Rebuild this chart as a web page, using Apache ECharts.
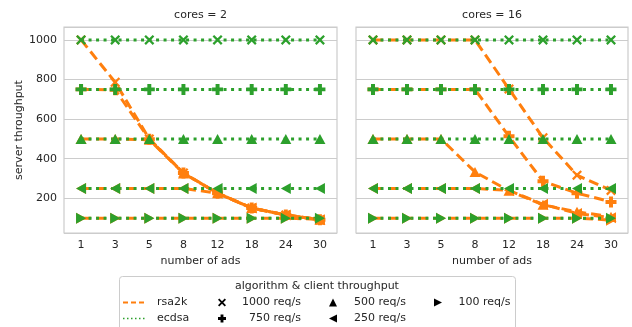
<!DOCTYPE html>
<html>
<head>
<meta charset="utf-8">
<script src="https://cdn.jsdelivr.net/npm/echarts@6/dist/echarts.min.js"></script>
<style>html,body{margin:0;padding:0;background:#fff;}#c{width:632px;height:327px;}</style>
</head>
<body>
<div id="c"></div>
<script>
// ---- data ----
const categories = ['1', '3', '5', '8', '12', '18', '24', '30'];
const panelTitles = ['cores = 2', 'cores = 16'];
const algorithms = ['rsa2k', 'ecdsa'];
const throughputLabels = ['1000 req/s', '750 req/s', '500 req/s', '250 req/s', '100 req/s'];
const yTicks = [200, 400, 600, 800, 1000];

// cores = 2, rsa2k
const rsaC2_1000 = [1000, 786, 500, 328, 226, 151, 116, 92];
const rsaC2_750  = [750, 748, 498, 328, 226, 151, 116, 92];
const rsaC2_500  = [500, 500, 496, 326, 226, 151, 116, 92];
const rsaC2_250  = [250, 250, 250, 250, 226, 151, 116, 92];
const rsaC2_100  = [100, 100, 100, 100, 100, 100, 100, 94];
// cores = 2, ecdsa
const ecC2_1000 = [1000, 1000, 1000, 1000, 1000, 1000, 1000, 1000];
const ecC2_750  = [750, 750, 750, 750, 750, 750, 750, 750];
const ecC2_500  = [500, 500, 500, 500, 500, 500, 500, 500];
const ecC2_250  = [250, 250, 250, 250, 250, 250, 250, 250];
const ecC2_100  = [100, 100, 100, 100, 100, 100, 100, 100];
// cores = 16, rsa2k
const rsaC16_1000 = [1000, 1000, 1000, 1000, 752, 506, 317, 240];
const rsaC16_750  = [750, 750, 750, 750, 513, 286, 226, 182];
const rsaC16_500  = [500, 500, 500, 333, 238, 167, 132, 107];
const rsaC16_250  = [250, 250, 250, 250, 240, 170, 124, 102];
const rsaC16_100  = [100, 100, 100, 100, 100, 100, 100, 90];
// cores = 16, ecdsa
const ecC16_1000 = [1000, 1000, 1000, 1000, 1000, 1000, 1000, 1000];
const ecC16_750  = [750, 750, 750, 750, 750, 750, 750, 750];
const ecC16_500  = [500, 500, 500, 500, 500, 500, 500, 500];
const ecC16_250  = [250, 250, 250, 250, 250, 250, 250, 250];
const ecC16_100  = [100, 100, 100, 100, 100, 100, 100, 100];

// ---- styling ----
const ORANGE = '#ff7f0e', GREEN = '#2ca02c', TXT = '#262626', FRAME = '#cccccc';
const FONT = 'DejaVu Sans';
const SYM = {
  x: 'path://M0,1.6 L1.6,0 L5,3.4 L8.4,0 L10,1.6 L6.6,5 L10,8.4 L8.4,10 L5,6.6 L1.6,10 L0,8.4 L3.4,5 Z',
  plus: 'path://M3.2,0 H6.8 V3.2 H10 V6.8 H6.8 V10 H3.2 V6.8 H0 V3.2 H3.2 Z',
  up: 'path://M5,0 L10,10 L0,10 Z',
  left: 'path://M0,5 L10,0 L10,10 Z',
  right: 'path://M10,5 L0,0 L0,10 Z'
};
const symOrder = ['x', 'plus', 'up', 'left', 'right'];
const symSize = {x: [10, 10], plus: [11, 11], up: [11, 10], left: [10, 11], right: [10, 11]};

const panels = [
  {rsa: [rsaC2_1000, rsaC2_750, rsaC2_500, rsaC2_250, rsaC2_100],
   ec: [ecC2_1000, ecC2_750, ecC2_500, ecC2_250, ecC2_100]},
  {rsa: [rsaC16_1000, rsaC16_750, rsaC16_500, rsaC16_250, rsaC16_100],
   ec: [ecC16_1000, ecC16_750, ecC16_500, ecC16_250, ecC16_100]}
];

const series = [];
panels.forEach((p, pi) => {
  [['rsa', ORANGE, [10, 5]], ['ec', GREEN, [3, 4.5]]].forEach(([key, color, dash], ai) => {
    p[key].forEach((arr, ti) => {
      const s = symOrder[ti];
      series.push({
        name: algorithms[ai] + ' ' + throughputLabels[ti],
        type: 'line',
        xAxisIndex: pi, yAxisIndex: pi,
        data: arr,
        symbol: SYM[s],
        symbolSize: symSize[s],
        showSymbol: true, showAllSymbol: true,
        itemStyle: {color: color, borderWidth: 0},
        lineStyle: {color: color, width: 3, type: dash, cap: 'butt'},
        emphasis: {disabled: true},
        animation: false,
        silent: true
      });
    });
  });
});

const grids = [
  {left: 64, top: 27, width: 273, height: 206},
  {left: 356, top: 27, width: 272, height: 206}
].map(g => Object.assign(g, {show: true, borderColor: FRAME, borderWidth: 1.2, backgroundColor: 'transparent', containLabel: false, outerBoundsMode: 'none'}));

const xAxes = [0, 1].map(i => ({
  gridIndex: i, type: 'category', data: categories, boundaryGap: true,
  axisLine: {show: false}, axisTick: {show: false},
  axisLabel: {color: TXT, fontSize: 11, fontFamily: FONT, margin: 7},
  splitLine: {show: false},
  name: 'number of ads', nameLocation: 'middle', nameGap: 22,
  nameTextStyle: {color: TXT, fontSize: 11, fontFamily: FONT}
}));

const yAxes = [0, 1].map(i => ({
  gridIndex: i, type: 'value', min: 25, max: 1065, splitNumber: 5,
  axisLine: {show: false}, axisTick: {show: false},
  axisLabel: {show: i === 0, color: TXT, fontSize: 11, fontFamily: FONT, margin: 7,
    showMinLabel: false, showMaxLabel: false,
    formatter: v => (yTicks.indexOf(v) >= 0 ? String(v) : '')},
  splitLine: {show: true, lineStyle: {color: FRAME, width: 1}},
  name: i === 0 ? 'server throughput' : '', nameLocation: 'middle', nameGap: 38,
  nameTextStyle: {color: TXT, fontSize: 11, fontFamily: FONT}
}));

// ---- legend (drawn as graphics) ----
function polyPts(key, cx, cy, s) {
  const paths = {
    x: [[0,1.6],[1.6,0],[5,3.4],[8.4,0],[10,1.6],[6.6,5],[10,8.4],[8.4,10],[5,6.6],[1.6,10],[0,8.4],[3.4,5]],
    plus: [[3.2,0],[6.8,0],[6.8,3.2],[10,3.2],[10,6.8],[6.8,6.8],[6.8,10],[3.2,10],[3.2,6.8],[0,6.8],[0,3.2],[3.2,3.2]],
    up: [[5,0],[10,10],[0,10]],
    left: [[0,5],[10,0],[10,10]],
    right: [[10,5],[0,0],[0,10]]
  };
  return paths[key].map(([a, b]) => [cx + (a - 5) * s / 10, cy + (b - 5) * s / 10]);
}
const row1 = 302.5, row2 = 318.5;
const lt = (text, x, y, align) => ({type: 'text', x: x, y: y, style: {text: text, fill: TXT, font: '11px "' + FONT + '"', textAlign: align, textVerticalAlign: 'middle'}});
const mk = (key, cx, cy, s) => ({type: 'polygon', shape: {points: polyPts(key, cx, cy, s)}, style: {fill: '#000'}});

const graphic = [
  {type: 'text', x: 200.5, y: 15.5, style: {text: panelTitles[0], fill: TXT, font: '11px "' + FONT + '"', textAlign: 'center', textVerticalAlign: 'middle'}},
  {type: 'text', x: 492, y: 15.5, style: {text: panelTitles[1], fill: TXT, font: '11px "' + FONT + '"', textAlign: 'center', textVerticalAlign: 'middle'}},
  {type: 'rect', shape: {x: 119.5, y: 276.5, width: 396, height: 70, r: 3}, style: {fill: '#fff', stroke: FRAME, lineWidth: 1}},
  lt('algorithm & client throughput', 317, 286, 'center'),
  {type: 'line', shape: {x1: 123, y1: row1, x2: 145, y2: row1}, style: {stroke: ORANGE, lineWidth: 1.8, lineDash: [5, 3]}},
  {type: 'line', shape: {x1: 123, y1: row2, x2: 145, y2: row2}, style: {stroke: GREEN, lineWidth: 1.5, lineDash: [1.5, 2.5]}},
  lt(algorithms[0], 157, row1, 'left'),
  lt(algorithms[1], 157, row2, 'left'),
  mk('x', 222, row1, 8),
  mk('plus', 222, row2, 8),
  lt(throughputLabels[0], 301, row1, 'right'),
  lt(throughputLabels[1], 301, row2, 'right'),
  mk('up', 333, row1, 8),
  mk('left', 333, row2, 8),
  lt(throughputLabels[2], 406, row1, 'right'),
  lt(throughputLabels[3], 406, row2, 'right'),
  mk('right', 438, row1, 8),
  lt(throughputLabels[4], 510.5, row1, 'right')
];

const chart = echarts.init(document.getElementById('c'), null, {renderer: 'canvas'});
chart.setOption({
  animation: false,
  backgroundColor: '#fff',
  textStyle: {fontFamily: FONT},
  grid: grids,
  xAxis: xAxes,
  yAxis: yAxes,
  series: series,
  graphic: graphic
});
</script>
</body>
</html>
